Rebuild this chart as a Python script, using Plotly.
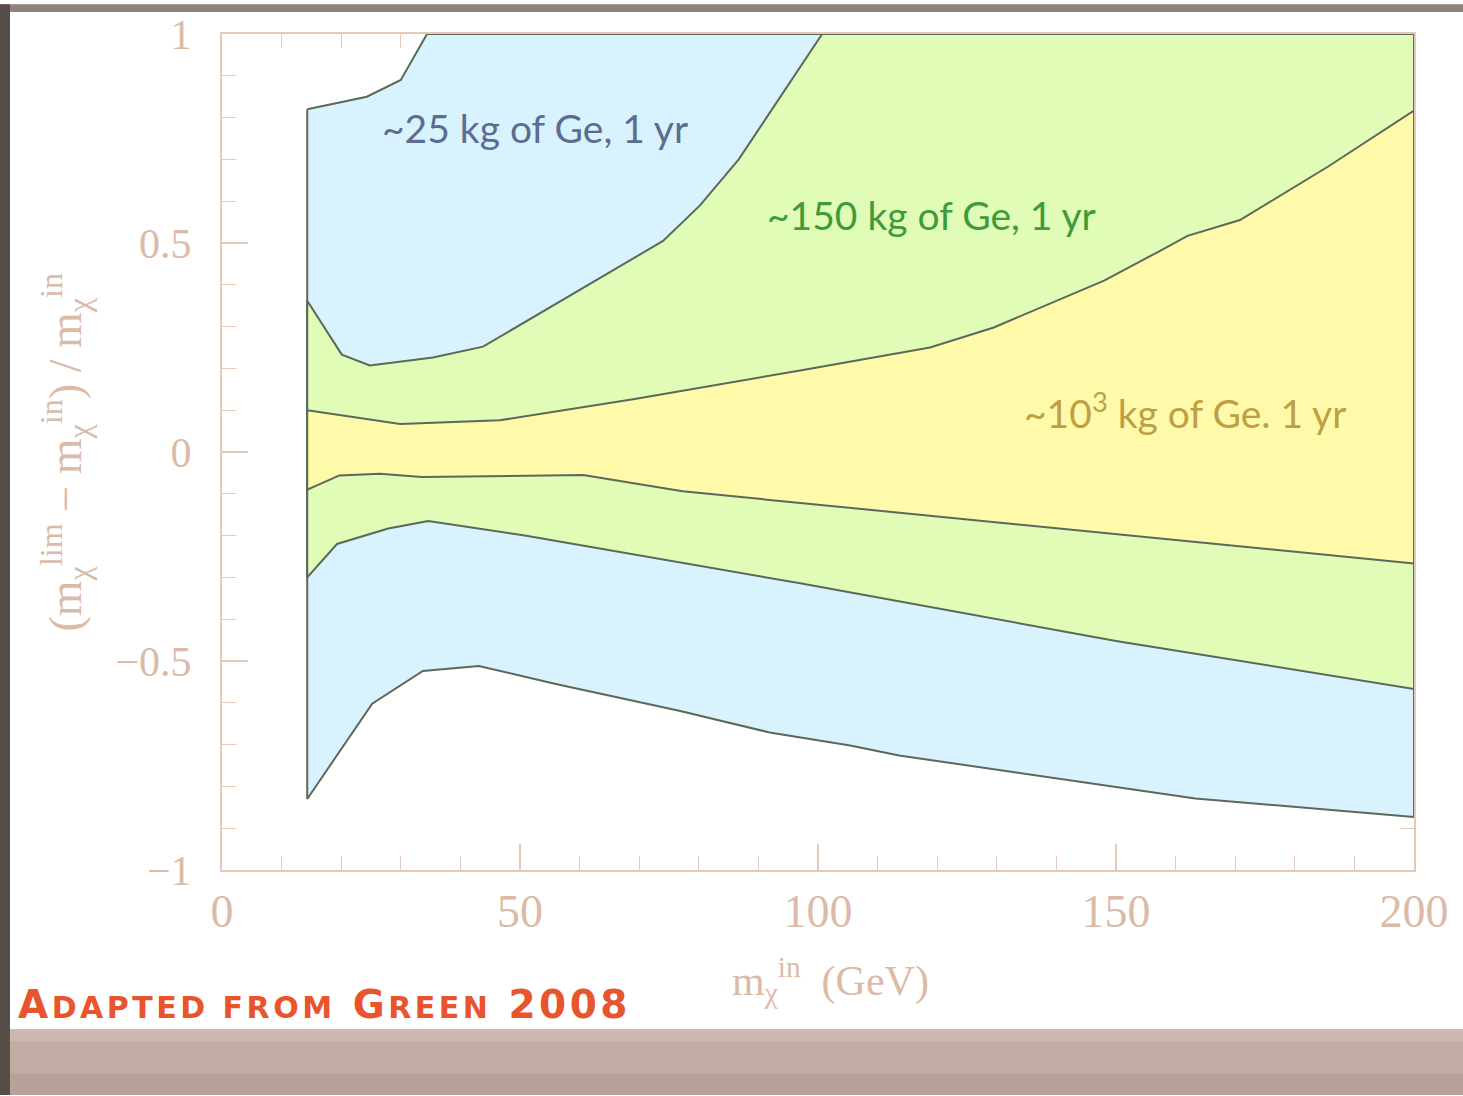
import plotly.graph_objects as go

# ---- data ----
# 25 kg region (blue)
m25_up_x = [14.3, 24.3, 30.0, 34.4, 200.0]
m25_up_y = [0.82, 0.85, 0.89, 1.0, 1.0]
m25_lo_x = [14.3, 25.2, 33.7, 43.1, 56.0, 76.7, 91.9, 105.4, 113.6, 163.3, 200.0]
m25_lo_y = [-0.83, -0.602, -0.524, -0.512, -0.555, -0.619, -0.671, -0.702, -0.726, -0.829, -0.873]

# 150 kg region (green)
m150_up_x = [14.3, 20.1, 24.8, 35.4, 43.8, 74.0, 80.2, 86.7, 100.7, 200.0]
m150_up_y = [0.362, 0.233, 0.207, 0.226, 0.252, 0.505, 0.59, 0.70, 1.0, 1.0]
m150_lo_x = [14.3, 19.3, 27.9, 34.6, 50.8, 97.0, 150.0, 200.0]
m150_lo_y = [-0.30, -0.22, -0.183, -0.165, -0.20, -0.314, -0.452, -0.567]

# 10^3 kg region (yellow)
m1000_up_x = [14.3, 29.9, 46.6, 69.0, 97.0, 118.8, 129.5, 148.0, 156.7, 162.0, 170.8, 185.6, 200.0]
m1000_up_y = [0.10, 0.067, 0.076, 0.126, 0.195, 0.25, 0.298, 0.41, 0.476, 0.517, 0.555, 0.683, 0.817]
m1000_lo_x = [14.3, 19.7, 26.5, 33.5, 60.6, 77.3, 200.0]
m1000_lo_y = [-0.09, -0.056, -0.052, -0.06, -0.055, -0.094, -0.267]

x_ticks = [0, 50, 100, 150, 200]
y_ticks = [-1, -0.5, 0, 0.5, 1]

region_labels = ["~25 kg of Ge, 1 yr", "~150 kg of Ge, 1 yr", "~10<sup>3</sup> kg of Ge. 1 yr"]

# ---- figure ----
def band(up_x, up_y, lo_x, lo_y):
    xs = list(up_x) + list(reversed(lo_x)) + [up_x[0]]
    ys = list(up_y) + list(reversed(lo_y)) + [up_y[0]]
    return xs, ys

fig = go.Figure()
outline = "#5c685a"
for (ux, uy, lx, ly, col) in [
    (m25_up_x, m25_up_y, m25_lo_x, m25_lo_y, "#d8f3fd"),
    (m150_up_x, m150_up_y, m150_lo_x, m150_lo_y, "#e0fcb6"),
    (m1000_up_x, m1000_up_y, m1000_lo_x, m1000_lo_y, "#fffaa9"),
]:
    xs, ys = band(ux, uy, lx, ly)
    fig.add_trace(go.Scatter(x=xs, y=ys, mode="lines", fill="toself",
                             fillcolor=col, line=dict(color=outline, width=2),
                             hoverinfo="skip", showlegend=False))

W, H = 1463, 1096
L, R, T, B = 222, 49, 30, 226
pw, ph = W - L - R, H - T - B

def px(xpix):
    return (xpix - L) / pw

def py(ypix):
    return (H - B - ypix) / ph

axis_col = "#e6c9b8"
label_col = "#dbbba8"
serif = "Liberation Serif, DejaVu Serif, serif"
sans = "Lato, Noto Sans, sans-serif"

fig.update_xaxes(range=[0, 200], tickvals=x_ticks, ticks="inside", ticklen=26, tickwidth=1.5,
                 tickcolor=axis_col, showline=True, linecolor=axis_col, linewidth=2,
                 mirror="ticks", showgrid=False, zeroline=False,
                 tickfont=dict(family=serif, size=46, color=label_col), ticklabelstandoff=0,
                 minor=dict(dtick=10, ticks="inside", ticklen=14, tickcolor=axis_col, tickwidth=1.2, showgrid=False),
                 layer="below traces")
fig.update_yaxes(range=[-1, 1], tickvals=y_ticks, ticks="inside", ticklen=26, tickwidth=1.5,
                 tickcolor=axis_col, showline=True, linecolor=axis_col, linewidth=2,
                 mirror="ticks", showgrid=False, zeroline=False,
                 tickfont=dict(family=serif, size=42, color=label_col), ticklabelstandoff=20,
                 minor=dict(dtick=0.1, ticks="inside", ticklen=14, tickcolor=axis_col, tickwidth=1.2, showgrid=False),
                 layer="below traces")

annotations = [
    dict(x=52.5, y=0.776, xref="x", yref="y", text=region_labels[0], showarrow=False,
         font=dict(family=sans, size=39, color="#5b6d90")),
    dict(x=119.0, y=0.567, xref="x", yref="y", text=region_labels[1], showarrow=False,
         font=dict(family=sans, size=39, color="#3f9a3c")),
    dict(x=161.5, y=0.10, xref="x", yref="y", text=region_labels[2], showarrow=False,
         font=dict(family=sans, size=39, color="#bf9f45")),
    dict(x=px(830), y=py(1012), xref="paper", yref="paper", showarrow=False,
         text="m<sub>χ</sub><sup>in</sup>  (GeV)",
         font=dict(family=serif, size=42, color=label_col)),
    dict(x=px(30), y=py(450), xref="paper", yref="paper", showarrow=False, textangle=-90,
         text="(m<sub>χ</sub><sup>lim</sup> − m<sub>χ</sub><sup>in</sup>) / m<sub>χ</sub><sup>in</sup>",
         font=dict(family=serif, size=46, color=label_col)),
    dict(x=px(16), y=py(1030), xref="paper", yref="paper", xanchor="left", yanchor="bottom",
         showarrow=False,
         text="<span style='letter-spacing:3.5px'>A<span style='font-size:30px'>DAPTED FROM</span> "
              "G<span style='font-size:30px'>REEN</span> 2008</span>",
         font=dict(family="DejaVu Sans, sans-serif", size=39, color="#e8542c", weight="bold")),
]

shapes = [
    # photo frame: bottom band, top strip, left strip
    dict(type="rect", xref="paper", yref="paper", x0=px(0), x1=px(W), y0=py(H), y1=py(1030),
         fillcolor="#c2aba2", line=dict(width=0), layer="below"),
    dict(type="rect", xref="paper", yref="paper", x0=px(0), x1=px(W), y0=py(1042), y1=py(1030),
         fillcolor="#cdb8af", line=dict(width=0), layer="below"),
    dict(type="rect", xref="paper", yref="paper", x0=px(0), x1=px(W), y0=py(H), y1=py(1075),
         fillcolor="#b8a198", line=dict(width=0), layer="below"),
    dict(type="rect", xref="paper", yref="paper", x0=px(0), x1=px(W), y0=py(8), y1=py(0),
         fillcolor="#8f827b", line=dict(width=0), layer="below"),
    dict(type="rect", xref="paper", yref="paper", x0=px(0), x1=px(10), y0=py(H), y1=py(0),
         fillcolor="#574d47", line=dict(width=0), layer="below"),
]

fig.update_layout(width=W, height=H, margin=dict(l=L, r=R, t=T, b=B),
                  paper_bgcolor="white", plot_bgcolor="white",
                  annotations=annotations, shapes=shapes, showlegend=False)

fig.write_html("out.html", config={"displayModeBar": False},
               post_script="document.body.style.margin='0px';document.body.style.overflow='hidden';")
